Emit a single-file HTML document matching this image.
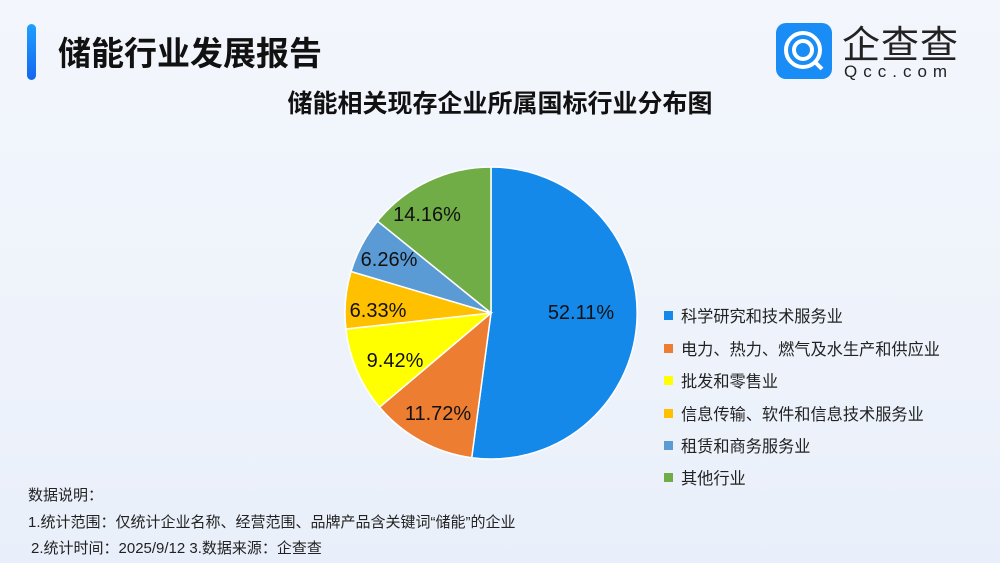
<!DOCTYPE html>
<html><head><meta charset="utf-8"><style>
body{margin:0;width:1000px;height:563px;overflow:hidden;background:linear-gradient(180deg,#f3f6fc 0%,#eef3fb 60%,#e9effa 100%);font-family:"Liberation Sans","Noto Sans CJK SC",sans-serif;position:relative}
.bar{position:absolute;left:27px;top:24px;width:9px;height:56px;border-radius:5px;background:linear-gradient(180deg,#1fa0ff,#1466f0)}
.t1{position:absolute;left:58px;top:27px;font-size:33px;font-weight:bold;color:#111}
.t2{position:absolute;left:0;width:1000px;top:84px;text-align:center;font-size:25px;font-weight:bold;color:#111}
.leg{position:absolute;left:664px;font-size:16.2px;color:#222}
.leg i{display:inline-block;width:9px;height:9px;margin-right:8px;vertical-align:2px}
.note{position:absolute;left:28px;font-size:15px;color:#222}
</style></head><body>
<div class="bar"></div>
<div class="t1">储能行业发展报告</div>
<div class="t2">储能相关现存企业所属国标行业分布图</div>
<svg style="position:absolute;left:776px;top:23px" width="56" height="56"><rect width="56" height="56" rx="10" fill="#1a8cf5"/><circle cx="27" cy="27" r="17" fill="none" stroke="#fff" stroke-width="4"/><circle cx="27" cy="27" r="9" fill="none" stroke="#fff" stroke-width="4"/><line x1="38" y1="38" x2="46" y2="46" stroke="#fff" stroke-width="4"/></svg>
<div style="position:absolute;left:842px;top:14px;font-size:38px;color:#222;letter-spacing:1px">企查查</div>
<div style="position:absolute;left:844px;top:62px;font-size:17px;color:#222;letter-spacing:6px">Qcc.com</div>
<svg style="position:absolute;left:0;top:0" width="1000" height="563">
<g stroke="#fff" stroke-width="1.5">
<path d="M491,313 L491,167 A146,146 0 1 1 471.7,457.7 Z" fill="#1589EA"/>
<path d="M491,313 L471.7,457.7 A146,146 0 0 1 379.5,407.2 Z" fill="#ED7D31"/>
<path d="M491,313 L379.5,407.2 A146,146 0 0 1 345.9,329 Z" fill="#FFFF00"/>
<path d="M491,313 L345.9,329 A146,146 0 0 1 351,271.5 Z" fill="#FFC000"/>
<path d="M491,313 L351,271.5 A146,146 0 0 1 377.5,221.1 Z" fill="#5B9BD5"/>
<path d="M491,313 L377.5,221.1 A146,146 0 0 1 491,167 Z" fill="#70AD47"/>
</g>
<g font-size="20" fill="#111" text-anchor="middle" font-family="Liberation Sans,sans-serif">
<text x="581" y="319">52.11%</text>
<text x="438" y="420">11.72%</text>
<text x="395" y="367">9.42%</text>
<text x="378" y="317">6.33%</text>
<text x="389" y="266">6.26%</text>
<text x="427" y="221">14.16%</text>
</g></svg>
<div class="leg" style="top:303px"><i style="background:#1589EA"></i>科学研究和技术服务业</div>
<div class="leg" style="top:336px"><i style="background:#ED7D31"></i>电力、热力、燃气及水生产和供应业</div>
<div class="leg" style="top:368px"><i style="background:#FFFF00"></i>批发和零售业</div>
<div class="leg" style="top:401px"><i style="background:#FFC000"></i>信息传输、软件和信息技术服务业</div>
<div class="leg" style="top:433px"><i style="background:#5B9BD5"></i>租赁和商务服务业</div>
<div class="leg" style="top:465px"><i style="background:#70AD47"></i>其他行业</div>
<div class="note" style="top:484px">数据说明：</div>
<div class="note" style="top:511px">1.统计范围：仅统计企业名称、经营范围、品牌产品含关键词“储能”的企业</div>
<div class="note" style="top:537px;left:31px">2.统计时间：2025/9/12  3.数据来源：企查查</div>
</body></html>
